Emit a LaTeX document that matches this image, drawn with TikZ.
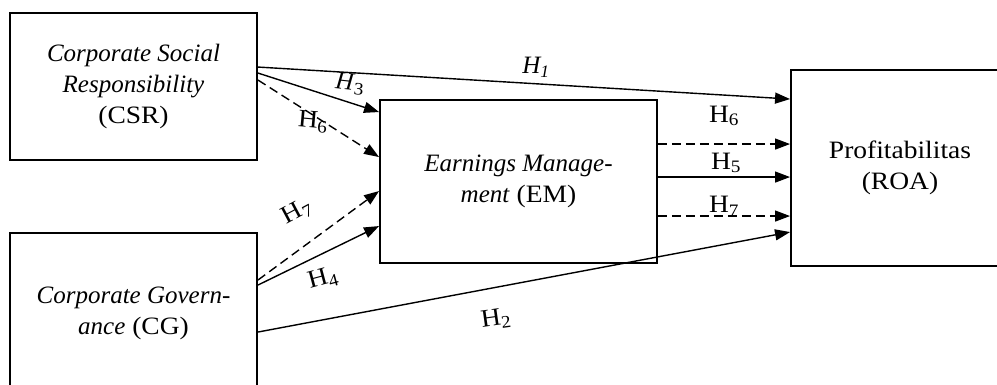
\documentclass[tikz,border=0pt]{standalone}
\usepackage{fontspec}
\setmainfont{Liberation Serif}[FakeStretch=1.1,
  ItalicFont={Liberation Serif Italic}, ItalicFeatures={FakeStretch=1.0}]
\usetikzlibrary{arrows.meta,calc}
\begin{document}
\begin{tikzpicture}[x=1pt,y=-1pt,
  box/.style={draw,line width=1.9pt,inner sep=0pt,align=center,font=\fontsize{25}{31}\selectfont},
  arr/.style={line width=1.4pt,-{Triangle[length=15pt,width=11pt]}},
  dsh/.style={arr,dash pattern=on 9pt off 5pt},
  lab/.style={font=\fontsize{25}{28}\selectfont,inner sep=0pt}]
\useasboundingbox (0,0) rectangle (997,385);
\clip (0,0) rectangle (997,385);
% boxes
\node[box,minimum width=247pt,minimum height=147pt] (csr) at (133.5,86.5)
  {\textit{Corporate Social}\\\textit{Responsibility}\\(CSR)};
\node[box,minimum width=247pt,minimum height=160pt] (cg) at (133.5,313)
  {\textit{Corporate Govern-}\\\textit{ance} (CG)};
\node[box,minimum width=277pt,minimum height=163pt] (em) at (518.5,181.5)
  {\textit{Earnings Manage-}\\\textit{ment} (EM)};
\node[box,minimum width=218pt,minimum height=196pt] (roa) at (900,168)
  {Profitabilitas\\(ROA)};
% connector end points
\coordinate (h1s) at ($(csr.north east)+(0,55)$);
\coordinate (h1e) at ($(roa.north west)+(0,30)$);
\coordinate (h3s) at ($(csr.north east)+(0,61)$);
\coordinate (h3e) at ($(em.north west)+(0,13)$);
\coordinate (h6s) at ($(csr.north east)+(0,68)$);
\coordinate (h6e) at ($(em.north west)+(0,58)$);
\coordinate (h7s) at ($(cg.north east)+(0,48)$);
\coordinate (h7e) at ($(em.north west)+(0,92)$);
\coordinate (h4s) at ($(cg.north east)+(0,53)$);
\coordinate (h4e) at ($(em.north west)+(0,127)$);
\coordinate (h2s) at ($(cg.north east)+(0,100)$);
\coordinate (h2e) at ($(roa.north west)+(0,163)$);
\coordinate (e6) at ($(em.north east)+(0,45)$);
\coordinate (e5) at ($(em.north east)+(0,78)$);
\coordinate (e7) at ($(em.north east)+(0,117)$);
% connectors
\draw[arr] (h1s) -- (h1e);
\draw[arr] (h3s) -- (h3e);
\draw[dsh] (h6s) -- (h6e);
\draw[dsh] (h7s) -- (h7e);
\draw[arr] (h4s) -- (h4e);
\draw[arr] (h2s) -- (h2e);
\draw[dsh] (e6) -- (e6 -| roa.west);
\draw[arr] (e5) -- (e5 -| roa.west);
\draw[dsh] (e7) -- (e7 -| roa.west);
% labels
\node[lab] (l1) at (536,67) {\textit{H\textsubscript{1}}};
\node[lab,rotate=-6] (l3) at (350,84) {\textit{H}\textsubscript{3}};
\node[lab,rotate=-5] (l6a) at (313,122) {H\textsubscript{6}};
\node[lab,rotate=28] (l7a) at (297,212) {H\textsubscript{7}};
\node[lab,rotate=15] (l4) at (323,279) {H\textsubscript{4}};
\node[lab,rotate=8] (l2) at (496,319) {H\textsubscript{2}};
\node[lab] (l6b) at (724,116) {H\textsubscript{6}};
\node[lab] (l5) at (726,163) {H\textsubscript{5}};
\node[lab] (l7b) at (724,206) {H\textsubscript{7}};
\end{tikzpicture}
\end{document}
